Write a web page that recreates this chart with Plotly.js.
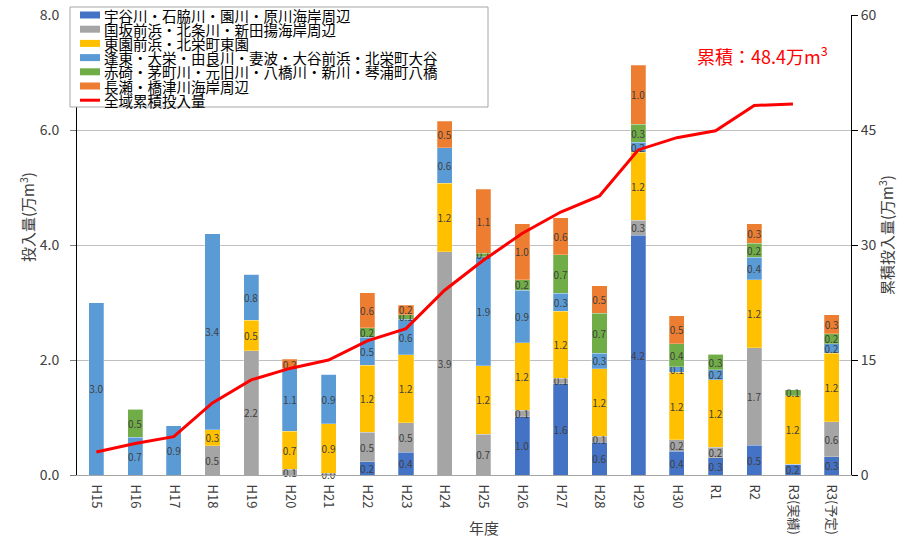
<!DOCTYPE html>
<html><head><meta charset="utf-8">
<script src="https://cdn.plot.ly/plotly-3.0.1.min.js"></script>
<style>body{margin:0;background:#fff}#chart{width:908px;height:537px}</style>
</head><body><div id="chart"></div>
<script>
// ---- data ----
const categories = ['H15','H16','H17','H18','H19','H20','H21','H22','H23','H24','H25','H26','H27','H28','H29','H30','R1','R2','R3(実績)','R3(予定)'];
const seriesNames = [
  '宇谷川・石脇川・園川・原川海岸周辺',
  '国坂前浜・北条川・新田揚海岸周辺',
  '東園前浜・北栄町東園',
  '逢東・大栄・由良川・妻波・大谷前浜・北栄町大谷',
  '赤碕・茅町川・元旧川・八橋川・新川・琴浦町八橋',
  '長瀬・橋津川海岸周辺'
];
const utaniValues   = [0,0,0,0,0,0,0,0.23,0.40,0,0,1.01,1.59,0.57,4.17,0.41,0.30,0.52,0.19,0.32];
const kunisakaValues= [0,0,0,0.51,2.16,0.10,0.03,0.51,0.51,3.88,0.71,0.12,0.09,0.10,0.26,0.20,0.18,1.69,0,0.61];
const higashisonoValues=[0,0,0,0.28,0.53,0.66,0.86,1.17,1.18,1.19,1.19,1.17,1.17,1.18,1.18,1.18,1.18,1.19,1.19,1.19];
const houtouValues  = [3.00,0.66,0.86,3.41,0.80,1.09,0.86,0.49,0.62,0.62,1.90,0.91,0.31,0.27,0.18,0.09,0.17,0.39,0,0.16];
const akasakiValues = [0,0.48,0,0,0,0,0,0.16,0.08,0,0.06,0.19,0.67,0.69,0.31,0.40,0.27,0.24,0.10,0.18];
const naganoseValues= [0,0,0,0,0,0.16,0,0.61,0.16,0.46,1.11,0.97,0.64,0.48,1.03,0.49,0,0.34,0,0.33];
const cumulativeName = '全域累積投入量';
const cumulativeValues = [3.0,4.1,5.0,9.4,12.4,13.9,15.0,17.5,19.1,24.1,28.0,31.5,34.3,36.4,42.4,44.0,44.9,48.2,48.4,null];
const totalLabel = '累積：48.4万m<sup>3</sup>';
const leftTicks = [0,2,4,6,8];
const rightTicks = [0,15,30,45,60];
const xTitle = '年度';
const leftTitle = '投入量(万m<sup>3</sup>)';
const rightTitle = '累積投入量(万m<sup>3</sup>)';

// ---- styles ----
const seriesValues = [utaniValues,kunisakaValues,higashisonoValues,houtouValues,akasakiValues,naganoseValues];
const colors = ['#4472C4','#A5A5A5','#FFC000','#5B9BD5','#70AD47','#ED7D31'];
const FONT = '"Noto Sans CJK JP", "Noto Sans", sans-serif';

const traces = seriesValues.map((vals,i)=>({
  type:'bar', name:seriesNames[i], x:categories, y:vals,
  marker:{color:colors[i], line:{color:'rgba(255,255,255,0.5)', width:0.5}},
  text: vals.map(v=> v>0 ? v.toFixed(1) : ''),
  textposition:'inside', insidetextanchor:'middle', constraintext:'none', textangle:0,
  textfont:{size:10, color:'#404040', family:FONT},
  cliponaxis:false,
  hoverinfo:'skip'
}));
traces.push({
  type:'scatter', mode:'lines', name:cumulativeName, x:categories, y:cumulativeValues,
  yaxis:'y2', line:{color:'#FF0000', width:3}, connectgaps:false
});

// px -> paper helpers (plot area 77..851 x, 15..475 y)
const px = v => (v-77)/774;
const py = v => (475-v)/460;

const shapes = [{
  type:'rect', xref:'paper', yref:'paper', x0:px(70), x1:px(488), y0:py(107), y1:py(7),
  fillcolor:'#fff', line:{color:'#a6a6a6', width:1}, layer:'above'
}];
const annotations = [];
const legendNames = seriesNames.concat([cumulativeName]);
legendNames.forEach((n,i)=>{
  const yc = 15 + i*14.2;
  if(i<6){
    shapes.push({type:'rect', xref:'paper', yref:'paper', x0:px(80), x1:px(100), y0:py(yc+3.5), y1:py(yc-3.5),
      fillcolor:colors[i], line:{width:0}, layer:'above'});
  } else {
    shapes.push({type:'line', xref:'paper', yref:'paper', x0:px(80), x1:px(100), y0:py(yc), y1:py(yc),
      line:{color:'#FF0000', width:3}, layer:'above'});
  }
  annotations.push({xref:'paper', yref:'paper', x:px(102), y:py(yc), xanchor:'left', yanchor:'middle',
    text:n, showarrow:false, font:{size:14.5, color:'#000', family:FONT}});
});
annotations.push({xref:'paper', yref:'paper', x:px(762), y:py(55), xanchor:'center', yanchor:'middle',
  text:totalLabel, showarrow:false, font:{size:18, color:'#FF0000', family:FONT}});
annotations.push({xref:'paper', yref:'paper', x:px(484), y:py(527), xanchor:'center', yanchor:'middle',
  text:xTitle, showarrow:false, font:{size:15, color:'#404040', family:FONT}});
annotations.push({xref:'paper', yref:'paper', x:px(27), y:py(217), xanchor:'center', yanchor:'middle',
  textangle:-90, text:leftTitle, showarrow:false, font:{size:15, color:'#404040', family:FONT}});
annotations.push({xref:'paper', yref:'paper', x:px(886), y:py(235), xanchor:'center', yanchor:'middle',
  textangle:-90, text:rightTitle, showarrow:false, font:{size:15, color:'#404040', family:FONT}});

const layout = {
  width:908, height:537,
  margin:{l:77, r:57, t:15, b:62},
  barmode:'stack', bargap:0.61,
  showlegend:false,
  font:{family:FONT, color:'#404040'},
  paper_bgcolor:'#fff', plot_bgcolor:'#fff',
  xaxis:{type:'category', tickangle:90, tickfont:{size:13, color:'#404040'}, ticklabelstandoff:6,
    showline:true, linecolor:'#a6a6a6', linewidth:1, ticks:'', automargin:false, fixedrange:true},
  yaxis:{range:[0,8], tickvals:leftTicks, tickformat:'.1f', showgrid:true, gridcolor:'#bfbfbf', gridwidth:1,
    showline:true, linecolor:'#000', linewidth:1, ticks:'outside', ticklen:6, tickcolor:'#7f7f7f',
    zeroline:false, tickfont:{size:14, color:'#404040'}, ticklabelstandoff:8, automargin:false},
  yaxis2:{range:[0,60], overlaying:'y', side:'right', tickvals:rightTicks, showgrid:false,
    showline:true, linecolor:'#000', linewidth:1, ticks:'outside', ticklen:6, tickcolor:'#000',
    zeroline:false, tickfont:{size:14, color:'#404040'}, automargin:false},
  shapes:shapes, annotations:annotations
};
Plotly.newPlot('chart', traces, layout, {displayModeBar:false, staticPlot:true});
</script>
</body></html>
